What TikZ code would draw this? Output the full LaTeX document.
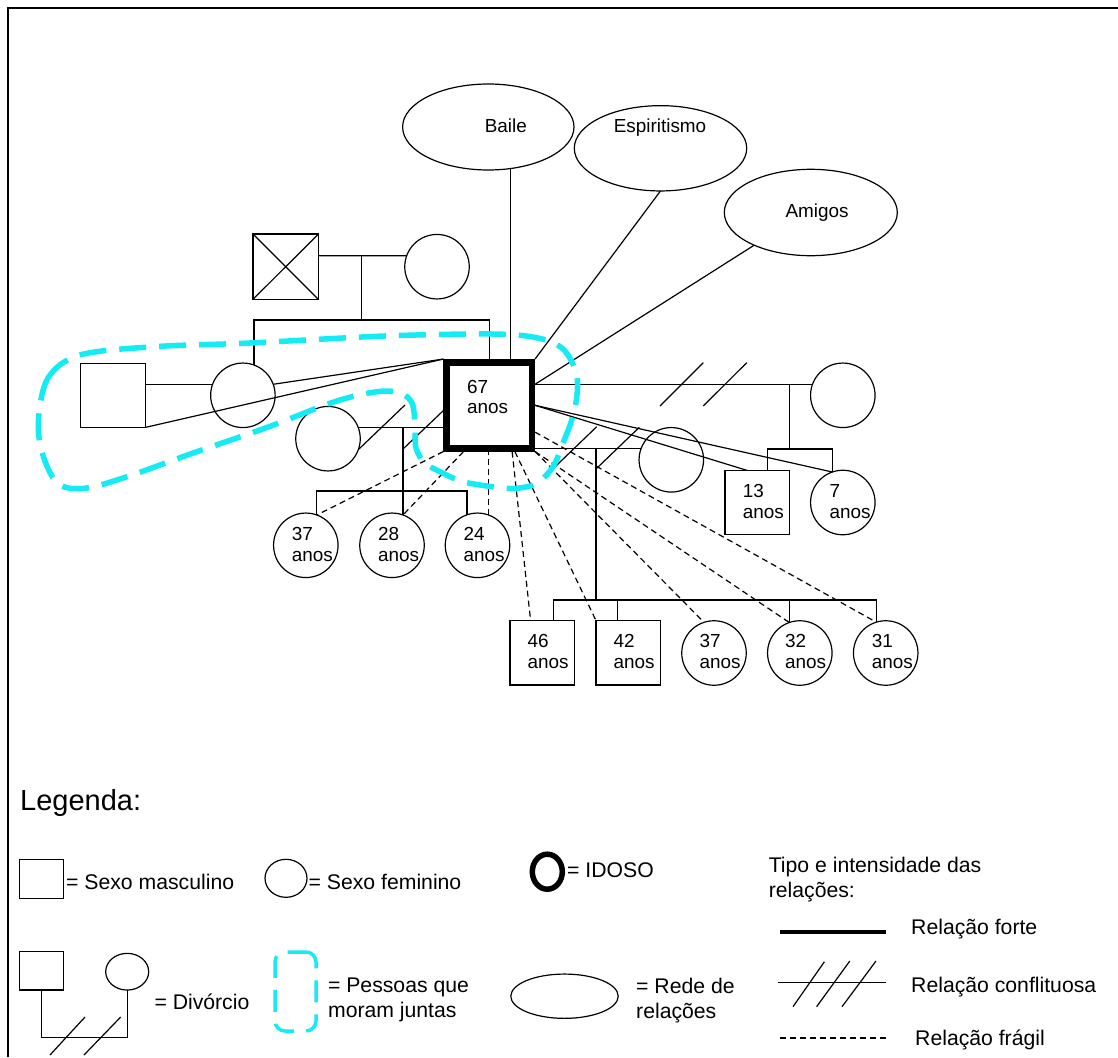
\documentclass[tikz,border=0pt]{standalone}
\usepackage{fontspec}
\setmainfont{Liberation Sans}
\usetikzlibrary{calc,shapes.geometric}
\definecolor{cy}{RGB}{20,235,245}
\begin{document}
\begin{tikzpicture}[x=1pt,y=-1pt,
  ln/.style={line width=1.2pt},
  frag/.style={line width=1.2pt, dash pattern=on 6pt off 4pt},
  male/.style={draw, line width=1.2pt, rectangle, minimum width=64.3pt, minimum height=64.3pt, inner sep=0pt, outer sep=0pt},
  fem/.style={draw, line width=1.2pt, circle, minimum size=64.5pt, inner sep=0pt, outer sep=0pt},
  net/.style={draw, line width=1.2pt, ellipse, inner sep=0pt, outer sep=0pt},
  idobox/.style={draw, line width=6.5pt, rectangle, minimum width=85.2pt, minimum height=86pt, inner sep=0pt},
  xbox/.style={path picture={\draw[line width=1.2pt] (path picture bounding box.north west) -- (path picture bounding box.south east) (path picture bounding box.south west) -- (path picture bounding box.north east);}},
  lbl/.style={inner sep=0pt, font=\fontsize{18.9}{20.3}\selectfont},
  age/.style={lbl, anchor=base west, align=left},
  legtxt/.style={anchor=base west, inner sep=0pt, font=\fontsize{21.2}{24.5}\selectfont},
  cyloop/.style={draw=cy, line width=5.5pt, dash pattern=on 27pt off 13pt},
]
\path[use as bounding box] (0,0) rectangle (1118,1057);
\draw[line width=2.3pt] (7.7,1057) -- (7.7,7.7) -- (1118,7.7);

% ---------- network ellipses ----------
\node[net, minimum width=171.4pt, minimum height=86pt] (baile) at (488.3,127) {};
\node[net, minimum width=172.4pt, minimum height=85.3pt] (esp) at (660.5,148.3) {};
\node[net, minimum width=173pt, minimum height=86.4pt] (ami) at (810.8,212.5) {};
\node[lbl, anchor=base] (tbaile) at (505.8,132.3) {Baile};
\node[lbl, anchor=base] (tesp) at (660,132.3) {Espiritismo};
\node[lbl, anchor=base] (tami) at (817,217.3) {Amigos};

% ---------- persons ----------
\node[male, xbox, minimum width=65.5pt, minimum height=65.3pt] (gf) at (285.7,266.7) {};
\node[fem] (gm) at (437,266.7) {};
\node[fem] (sis) at (242.9,395.3) {};
\node[male] (hus) at (113,395.3) {};
\node[fem] (wf1) at (328,438.7) {};
\node[idobox] (ido) at (489.2,405.3) {};
\node[fem] (k37a) at (305.8,545.3) {};
\node[fem] (k28) at (392,545.3) {};
\node[fem] (k24) at (477.5,545.3) {};
\node[fem] (wf2) at (671.3,459.8) {};
\node[fem] (wr) at (842.8,395.3) {};
\node[male] (b13) at (757.2,502.5) {};
\node[fem] (c7) at (842.8,502.5) {};
\node[male] (b46) at (542.2,652.8) {};
\node[male] (b42) at (628.2,652.8) {};
\node[fem] (c37b) at (714,653) {};
\node[fem] (c32) at (799.8,653) {};
\node[fem] (c31) at (885.7,653) {};

% ages (anchor = baseline of the last line)
\node[age] (t67) at (467,413.7) {67\\anos};
\node[age] (t37a) at (291.7,561) {37\\anos};
\node[age] (t28) at (377.8,561) {28\\anos};
\node[age] (t24) at (463.3,561) {24\\anos};
\node[age] (t13) at (742.7,518) {13\\anos};
\node[age] (t7) at (829.5,518) {7\\anos};
\node[age] (t46) at (527.3,668) {46\\anos};
\node[age] (t42) at (613.3,668) {42\\anos};
\node[age] (t37b) at (699.3,668) {37\\anos};
\node[age] (t32) at (785,668) {32\\anos};
\node[age] (t31) at (871.7,668) {31\\anos};

% ---------- helper coordinates ----------
\coordinate (gpm) at (361.5,255.7);
\coordinate (sib) at (361.5,320);
\coordinate (kl1) at (0,491);
\coordinate (kl2) at (596,600);
\coordinate (kl3) at (789.3,449);
\coordinate (d46) at ($(b46.north west)!0.67!(b46.north east)$);
\coordinate (d42) at ($(b42.north west)!0.33!(b42.north east)$);
\coordinate (d13) at ($(b13.north west)!0.66!(b13.north east)$);

% ---------- family lines ----------
\draw[ln] (gf.east |- gpm) -- (gm.160);
\draw[ln] (gpm) -- (sib);
\draw[ln] (sis.70) -- (sis.70 |- sib) -| (ido.north);
\draw[ln] (hus.east |- sis.160) -- (sis.160);
\draw[ln] (ido.north west) -- (sis.20);
\draw[ln] (ido.north west) -- (hus.south east);

% first wife
\draw[ln] (wf1.21) -- (wf1.21 -| ido.west);
\draw[ln] (k28.70) -- (k28.70 |- wf1.21);
\draw[ln] (k37a.70) -- (k37a.70 |- kl1) -- (k24.109 |- kl1) -- (k24.109);
\draw[ln] (359,449) -- (405,405);
\draw[ln] (403,449) -- (444,410);

% second wife
\draw[ln] (wf2.160 -| ido.east) -- (wf2.160);
\draw[ln] (kl2 |- wf2.160) -- (kl2);
\draw[ln] (d46) -- (d46 |- kl2) -- (c31.107 |- kl2) -- (c31.107);
\draw[ln] (d42) -- (d42 |- kl2);
\draw[ln] (c32.109) -- (c32.109 |- kl2);
\draw[ln] (551.7,470) -- (596.7,426.7);
\draw[ln] (596.7,468.3) -- (639.3,427.3);

% right woman
\draw[ln] (wr.160 -| ido.east) -- (wr.160);
\draw[ln] (kl3 |- wr.160) -- (kl3);
\draw[ln] (d13) -- (d13 |- kl3) -- (c7.109 |- kl3) -- (c7.109);
\draw[ln] (660,406) -- (703.3,362.7);
\draw[ln] (703.3,406) -- (746.7,362.7);
\draw[ln] (ido.east) -- ($(b13.north west)!0.34!(b13.north east)$);
\draw[ln] (ido.east) -- (c7.109);

% networks
\draw[ln] (baile.-62) -- (baile.-62 |- ido.north);
\draw[ln] (esp.south) -- (ido.north east);
\draw[ln] (ami.-150) -- (ido.east |- wr.160);

% fragile relations
\draw[frag] (ido.south west) -- (k37a.70);
\draw[frag] ($(ido.south west)!0.22!(ido.south east)$) -- (k28.70);
\draw[frag] (k24.70) -- (k24.70 |- ido.south);
\draw[frag] ($(ido.south west)!0.75!(ido.south east)$) -- ($(b46.north west)!0.32!(b46.north east)$);
\draw[frag] ($(ido.south west)!0.78!(ido.south east)$) -- (b42.north west);
\draw[frag] (ido.south east) -- (c37b.108);
\draw[frag] (ido.south east) -- (c32.109);
\draw[frag] ($(ido.north east)!0.79!(ido.south east)$) -- (c31.107);

% people living together
\draw[cyloop] plot[smooth cycle, tension=0.55] coordinates {
 (38.5,420) (48,378) (80,355) (153.8,346.7) (250,343) (384.6,336) (492,334)
 (538,338) (563,349) (576,372) (577,395) (571.7,420) (563,443) (553,466.7)
 (536.7,483.3) (516.7,488.3) (496.7,487.3) (463,481.7) (440,471.7) (425,463)
 (416,448) (415,425) (412,403) (400,393) (377,391.7) (334.6,401.7) (269,426.7)
 (192.3,453.3) (127,476.7) (84.6,488.3) (57.7,483.3) (42.3,453.3)};

% ---------- legend ----------
\node[anchor=base west, inner sep=0pt, font=\fontsize{29}{34}\selectfont] (leg) at (20,810) {Legenda:};

\node[male, minimum width=43.7pt, minimum height=39pt] (lm) at (41.5,878.8) {};
\node[legtxt] (tlm) at (66,889.3) {= Sexo masculino};
\node[net, minimum width=42pt, minimum height=38pt] (lf) at (286,878.3) {};
\node[legtxt] (tlf) at (308.5,889.3) {= Sexo feminino};
\node[draw, ellipse, line width=5.5pt, minimum width=30pt, minimum height=35pt, inner sep=0pt] (li) at (547.3,871.7) {};
\node[legtxt] (tli) at (567,877.6) {= IDOSO};
\node[legtxt, align=left] (ttipo) at (768.6,897.1) {Tipo e intensidade das\\relações:};

\coordinate (lf1) at (780,931.7);
\coordinate (lf2) at (886,931.7);
\draw[line width=4pt] (lf1) -- (lf2);
\node[legtxt] (tforte) at (911,934.3) {Relação forte};

\coordinate (lc1) at (778,982.7);
\coordinate (lc2) at (886,982.7);
\draw[ln] (lc1) -- (lc2);
\draw[ln] (793,1006.7) -- (824.4,961.7);
\draw[ln] (816.6,1006.7) -- (849.8,961);
\draw[ln] (842,1006.7) -- (876,961);
\node[legtxt] (tconf) at (911,992.6) {Relação conflituosa};

\coordinate (ld1) at (780,1038);
\coordinate (ld2) at (886,1038);
\draw[frag] (ld1) -- (ld2);
\node[legtxt] (tfrag) at (915,1045.6) {Relação frágil};

\node[net, minimum width=107.4pt, minimum height=44.3pt] (lr) at (564.5,996.2) {};
\node[legtxt, align=left] (tlr) at (636,1018.3) {= Rede de\\relações};

\node[male, minimum width=43.7pt, minimum height=38.3pt] (dm) at (41.5,970.8) {};
\node[net, minimum width=43pt, minimum height=36.7pt] (df) at (127.2,971.7) {};
\coordinate (dl) at (0,1037.3);
\draw[ln] (dm.south) -- (dm.south |- dl) -- (df.south |- dl) -- (df.south);
\draw[ln] (50,1055) -- (85,1017);
\draw[ln] (84,1055) -- (120.7,1017);
\node[legtxt] (tdiv) at (154.3,1009.3) {= Divórcio};

\draw[draw=cy, line width=3.5pt, rounded corners=10pt, dash pattern=on 22pt off 12pt] (296,952) -- (316,952) -- (316,1031) -- (275,1031) -- (275,952) -- cycle;
\node[legtxt, align=left] (tmor) at (327.9,1017.1) {= Pessoas que\\moram juntas};
\end{tikzpicture}
\end{document}
